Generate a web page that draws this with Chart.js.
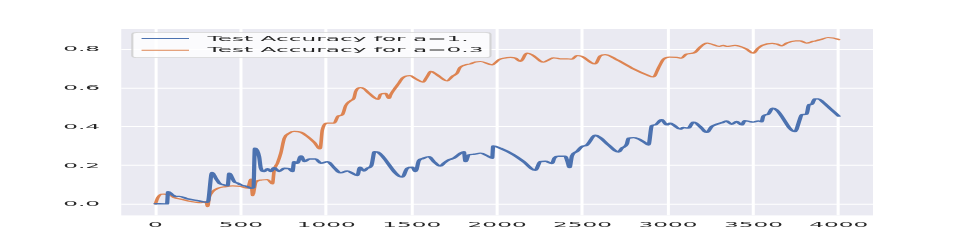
<!DOCTYPE html>
<html><head><meta charset="utf-8">
<script src="https://cdn.jsdelivr.net/npm/chart.js@4/dist/chart.umd.min.js"></script>
<style>html,body{margin:0;padding:0;background:#fff;overflow:hidden}canvas{display:block}</style>
</head><body>
<canvas id="c" width="640" height="480"></canvas>
<script>
// ---- data ----
const seriesNames = ['Test Accuracy for a=1.', 'Test Accuracy for a=0.3'];
const xTicks = [0, 500, 1000, 1500, 2000, 2500, 3000, 3500, 4000];
const xTickLabels = ['0', '500', '1000', '1500', '2000', '2500', '3000', '3500', '4000'];
const yTicks = [0, 0.2, 0.4, 0.6, 0.8];
const yTickLabels = ['0.0', '0.2', '0.4', '0.6', '0.8'];

const stepsA1 = [0,68,74,101,121,140,189,247,306,331,354,374,403,423,432,461,481,500,539,559,574,582,607,617,637,656,676,695,724,754,783,802,812,831,851,874,900,938,968,1007,1046,1084,1123,1153,1182,1197,1220,1240,1264,1283,1302,1445,1474,1503,1523,1542,1562,1600,1630,1669,1688,1717,1747,1786,1805,1815,1834,1863,1902,1951,1971,1977,2019,2097,2155,2224,2253,2282,2321,2335,2360,2399,2412,2424,2438,2467,2496,2525,2574,2603,2652,2711,2730,2759,2769,2798,2856,2886,2905,2925,2963,2993,3012,3032,3071,3090,3119,3149,3188,3227,3256,3285,3324,3343,3372,3402,3431,3450,3480,3499,3529,3548,3558,3587,3612,3636,3743,3772,3782,3811,3826,3840,3860,3880,3908,3947,4000];
const accA1 = [0.003,0.002,0.065,0.048,0.040,0.041,0.028,0.019,0.010,0.164,0.134,0.109,0.100,0.096,0.160,0.117,0.109,0.100,0.091,0.083,0.086,0.289,0.246,0.186,0.169,0.183,0.169,0.189,0.169,0.186,0.183,0.169,0.220,0.212,0.250,0.220,0.234,0.234,0.212,0.220,0.189,0.162,0.172,0.160,0.148,0.191,0.172,0.186,0.200,0.272,0.269,0.140,0.186,0.191,0.169,0.225,0.235,0.246,0.220,0.197,0.212,0.229,0.238,0.264,0.272,0.220,0.255,0.258,0.264,0.246,0.238,0.301,0.289,0.255,0.220,0.176,0.220,0.222,0.210,0.238,0.248,0.248,0.220,0.189,0.250,0.272,0.298,0.305,0.356,0.344,0.306,0.270,0.289,0.310,0.341,0.344,0.324,0.306,0.405,0.410,0.436,0.410,0.418,0.410,0.388,0.396,0.393,0.424,0.401,0.371,0.401,0.413,0.424,0.430,0.413,0.427,0.410,0.431,0.427,0.424,0.430,0.426,0.455,0.465,0.496,0.487,0.375,0.440,0.463,0.465,0.515,0.515,0.544,0.544,0.527,0.496,0.455];

const stepsA03 = [0,14,33,53,72,92,111,150,208,267,296,306,315,335,364,403,452,500,540,559,569,588,617,656,685,695,714,734,754,783,812,851,890,929,964,977,1007,1046,1069,1094,1114,1143,1162,1172,1200,1221,1250,1304,1318,1347,1367,1377,1396,1425,1445,1490,1523,1565,1591,1612,1649,1708,1737,1766,1782,1815,1844,1873,1902,1971,2010,2039,2078,2107,2136,2175,2204,2272,2302,2331,2370,2409,2438,2467,2496,2574,2603,2632,2691,2798,2876,2915,2944,2973,3008,3051,3080,3105,3129,3158,3185,3210,3230,3250,3300,3324,3343,3392,3421,3460,3499,3528,3552,3610,3636,3668,3694,3748,3772,3811,3850,3889,3937,3966,4000];
const accA03 = [0.002,0.034,0.052,0.053,0.048,0.045,0.034,0.026,0.014,0.008,0.014,-0.012,0.035,0.065,0.082,0.090,0.095,0.092,0.083,0.130,0.045,0.115,0.125,0.128,0.105,0.175,0.212,0.264,0.340,0.367,0.376,0.372,0.350,0.320,0.286,0.384,0.419,0.419,0.455,0.462,0.510,0.535,0.548,0.582,0.602,0.596,0.573,0.542,0.568,0.573,0.546,0.565,0.591,0.625,0.651,0.664,0.648,0.630,0.660,0.686,0.668,0.637,0.660,0.677,0.705,0.720,0.725,0.735,0.737,0.720,0.746,0.754,0.758,0.754,0.737,0.780,0.772,0.734,0.746,0.756,0.751,0.751,0.749,0.768,0.763,0.725,0.765,0.772,0.751,0.699,0.668,0.657,0.703,0.748,0.760,0.758,0.754,0.774,0.778,0.784,0.808,0.826,0.832,0.828,0.815,0.820,0.815,0.820,0.815,0.801,0.780,0.806,0.820,0.831,0.827,0.818,0.832,0.844,0.844,0.832,0.841,0.849,0.861,0.858,0.850];

// ---- rendering geometry (figure drawn in a 640x480 space, then stretched to 970x242) ----
const OUT_W = 970, OUT_H = 242, BASE_W = 640, BASE_H = 480;
const SX = OUT_W / BASE_W, SY = OUT_H / BASE_H;
const COLORS = ['#4C72B0', '#DD8452'];
const FONT = '"DejaVu Sans", Verdana, sans-serif';
const FSIZE = 15.3;

const stretchPlugin = {
  id: 'stretch',
  beforeDraw(chart) {
    const c = chart.canvas;
    if (c.width !== OUT_W || c.height !== OUT_H) {
      c.width = OUT_W; c.height = OUT_H;
      c.style.width = OUT_W + 'px'; c.style.height = OUT_H + 'px';
    }
    const ctx = chart.ctx;
    ctx.setTransform(SX, 0, 0, SY, 0, 0);
    ctx.fillStyle = '#ffffff';
    ctx.fillRect(0, 0, BASE_W, BASE_H);
    const a = chart.chartArea;
    ctx.fillStyle = '#EAEAF2';
    ctx.fillRect(a.left, a.top, a.right - a.left, a.bottom - a.top);
  },
  afterDraw(chart) {
    const ctx = chart.ctx;
    ctx.save();
    const L = 87.3, T = 64.1, R = 323.6, B = 114.4, r = 4;
    ctx.beginPath();
    ctx.moveTo(L + r, T);
    ctx.lineTo(R - r, T); ctx.quadraticCurveTo(R, T, R, T + r);
    ctx.lineTo(R, B - r); ctx.quadraticCurveTo(R, B, R - r, B);
    ctx.lineTo(L + r, B); ctx.quadraticCurveTo(L, B, L, B - r);
    ctx.lineTo(L, T + r); ctx.quadraticCurveTo(L, T, L + r, T);
    ctx.closePath();
    ctx.fillStyle = 'rgba(255,255,255,0.8)';
    ctx.fill();
    ctx.strokeStyle = 'rgba(204,204,204,0.8)';
    ctx.lineWidth = 1.4;
    ctx.stroke();
    const rows = [76.5, 99.5];
    chart.data.datasets.forEach((ds, i) => {
      const y = rows[i];
      ctx.beginPath();
      ctx.moveTo(93.4, y); ctx.lineTo(124.7, y);
      ctx.strokeStyle = ds.borderColor;
      ctx.lineWidth = 2.08;
      ctx.stroke();
      ctx.fillStyle = '#262626';
      ctx.font = FSIZE + 'px ' + FONT;
      ctx.textBaseline = 'middle';
      ctx.textAlign = 'left';
      ctx.fillText(ds.label, 136.9, y);
    });
    ctx.restore();
  }
};

const toPts = (xs, ys) => xs.map((x, i) => ({x: x, y: ys[i]}));

new Chart(document.getElementById('c'), {
  type: 'line',
  data: {
    datasets: [
      {label: seriesNames[0], data: toPts(stepsA1, accA1), borderColor: COLORS[0], borderWidth: 2.8},
      {label: seriesNames[1], data: toPts(stepsA03, accA03), borderColor: COLORS[1], borderWidth: 2.4}
    ]
  },
  options: {
    responsive: false,
    animation: false,
    events: [],
    devicePixelRatio: 1,
    layout: {padding: {left: 0, right: 64, top: 57.6, bottom: 0}},
    elements: {
      point: {radius: 0},
      line: {cubicInterpolationMode: 'monotone', borderCapStyle: 'round', borderJoinStyle: 'round', fill: false}
    },
    plugins: {legend: {display: false}, tooltip: {enabled: false}},
    scales: {
      x: {
        type: 'linear', min: -200, max: 4200,
        afterBuildTicks(s) { s.ticks = xTicks.map(v => ({value: v})); },
        afterFit(s) { s.height = 52.8; },
        grid: {color: '#ffffff', lineWidth: 2, drawTicks: false},
        border: {display: false},
        ticks: {padding: 10, autoSkip: false, maxRotation: 0, color: '#262626',
                font: {family: FONT, size: FSIZE}, callback: (v, i) => xTickLabels[i]}
      },
      y: {
        type: 'linear', min: -0.0573, max: 0.9046,
        afterBuildTicks(s) { s.ticks = yTicks.map(v => ({value: v})); },
        afterFit(s) { s.width = 80; },
        grid: {color: '#ffffff', lineWidth: 2, drawTicks: false},
        border: {display: false},
        ticks: {padding: 14, color: '#262626',
                font: {family: FONT, size: FSIZE}, callback: (v, i) => yTickLabels[i]}
      }
    }
  },
  plugins: [stretchPlugin]
});
</script>
</body></html>
